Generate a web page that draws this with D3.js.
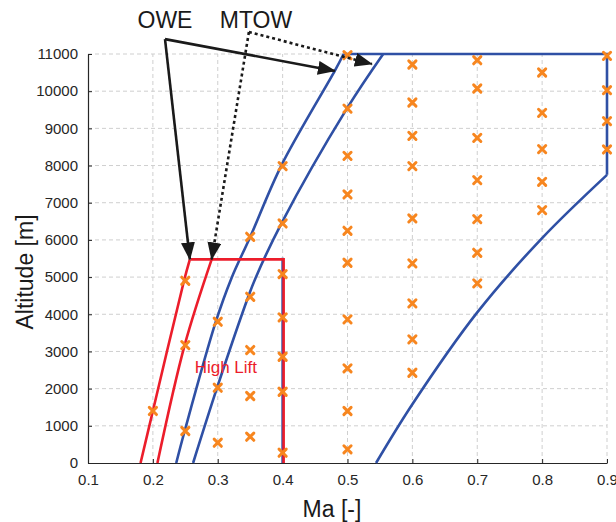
<!DOCTYPE html>
<html>
<head>
<meta charset="utf-8">
<script src="https://cdn.jsdelivr.net/npm/d3@7"></script>
<style>
  body { margin: 0; background: #fff; }
  text { font-family: "Liberation Sans", Arial, sans-serif; }
</style>
</head>
<body>
<div id="chart"></div>
<script>
// Flight envelope: Mach vs altitude
const machTicks = [0.1, 0.2, 0.3, 0.4, 0.5, 0.6, 0.7, 0.8, 0.9];
const altTicks = [0, 1000, 2000, 3000, 4000, 5000, 6000, 7000, 8000, 9000, 10000, 11000];

// [Ma, altitude m]
const oweClean = [[0.236, 0], [0.249, 860], [0.297, 3800], [0.321, 4965], [0.35, 6080], [0.398, 8000], [0.481, 10565], [0.494, 11000]];
const mtowClean = [[0.262, 0], [0.299, 2025], [0.347, 4470], [0.358, 4965], [0.398, 6440], [0.499, 9530], [0.555, 11000]];
const ceiling = [[0.494, 11000], [0.9, 11000], [0.9, 7750]];
const highSpeed = [[0.9, 7750], [0.8, 6050], [0.7, 4050], [0.6, 1580], [0.544, 0]];
const cleanLowLimit = [[0.4, 0], [0.4, 5520]];
const oweHighLift = [[0.181, 0], [0.2, 1400], [0.248, 4900], [0.257, 5476]];
const mtowHighLift = [[0.207, 0], [0.249, 3170], [0.2906, 5476]];
const highLiftTop = [[0.257, 5476], [0.4, 5476], [0.4, 0]];

// test points per Mach column
const pointMach = [0.2, 0.25, 0.3, 0.35, 0.4, 0.5, 0.6, 0.7, 0.8, 0.9];
const pointAlts = [
  [1400],
  [860, 3170, 4900],
  [546, 2025, 3800],
  [707, 1801, 3038, 4470, 6084],
  [277, 1917, 2858, 3916, 5081, 6443, 7984],
  [368, 1398, 2546, 3863, 5385, 6245, 7223, 8261, 9530, 10968],
  [2427, 3325, 4293, 5368, 6578, 7984, 8798, 9696, 10717],
  [4830, 5653, 6559, 7608, 8745, 10073, 10833],
  [6801, 7562, 8441, 9417, 10503],
  [8433, 9194, 10027, 10949]
];

// annotation arrows [from, to] in data coords
const oweArrows = [[[0.2187, 11400], [0.4806, 10545]], [[0.2187, 11400], [0.257, 5476]]];
const mtowArrows = [[[0.348, 11590], [0.5376, 10730]], [[0.348, 11590], [0.2906, 5476]]];

const blue = "#2f50a5";
const red = "#ec1d2b";
const orange = "#f7861f";

const W = 616, H = 522;
const x = d3.scaleLinear().domain([0.1, 0.9]).range([88, 607]);
const y = d3.scaleLinear().domain([0, 11000]).range([463, 54]);

const svg = d3.select("#chart").append("svg")
  .attr("width", W)
  .attr("height", H);

// arrowhead
svg.append("defs").append("marker")
  .attr("id", "head")
  .attr("markerUnits", "userSpaceOnUse")
  .attr("viewBox", "0 0 18 14")
  .attr("refX", 17)
  .attr("refY", 7)
  .attr("markerWidth", 18)
  .attr("markerHeight", 14)
  .attr("orient", "auto")
  .append("path")
  .attr("d", "M0,0 L18,7 L0,14 Z")
  .attr("fill", "#1a1a1a");

// grid
svg.append("g")
  .selectAll("line")
  .data(machTicks.slice(1))
  .join("line")
  .attr("x1", (d) => x(d)).attr("x2", (d) => x(d))
  .attr("y1", y(0)).attr("y2", y(11000))
  .attr("stroke", "#cfcfcf")
  .attr("stroke-dasharray", "4,3");

svg.append("g")
  .selectAll("line")
  .data(altTicks.slice(1))
  .join("line")
  .attr("x1", x(0.1)).attr("x2", x(0.9))
  .attr("y1", (d) => y(d)).attr("y2", (d) => y(d))
  .attr("stroke", "#cfcfcf")
  .attr("stroke-dasharray", "4,3");

// axes
const xAxis = svg.append("g")
  .attr("transform", `translate(0,${y(0)})`)
  .call(d3.axisBottom(x).tickValues(machTicks).tickFormat(d3.format(".1f")).tickSizeInner(-4).tickSizeOuter(0).tickPadding(11));
const yAxis = svg.append("g")
  .attr("transform", `translate(${x(0.1)},0)`)
  .call(d3.axisLeft(y).tickValues(altTicks).tickFormat(d3.format("d")).tickSizeInner(-4).tickSizeOuter(0).tickPadding(10));

[xAxis, yAxis].forEach((a) => {
  a.select(".domain").attr("stroke", "#262626").attr("stroke-width", 1.2);
  a.selectAll(".tick line").attr("stroke", "#262626");
  a.selectAll(".tick text")
    .attr("fill", "#262626")
    .style("font-size", "15px")
    .style("font-family", "'Liberation Sans', Arial, sans-serif");
});

// axis labels
svg.append("text")
  .attr("x", 332)
  .attr("y", 517)
  .attr("text-anchor", "middle")
  .attr("fill", "#1a1a1a")
  .style("font-size", "23px")
  .text("Ma [-]");

svg.append("text")
  .attr("transform", "translate(33,272) rotate(-90)")
  .attr("text-anchor", "middle")
  .attr("fill", "#1a1a1a")
  .style("font-size", "23px")
  .text("Altitude [m]");

// envelope lines
const smooth = d3.line().x((d) => x(d[0])).y((d) => y(d[1])).curve(d3.curveCatmullRom.alpha(0.5));
const straight = d3.line().x((d) => x(d[0])).y((d) => y(d[1]));

const g = svg.append("g").attr("fill", "none").attr("stroke-width", 2.6);

g.append("path").attr("d", straight(cleanLowLimit)).attr("stroke", blue);
g.append("path").attr("d", smooth(oweClean)).attr("stroke", blue);
g.append("path").attr("d", smooth(mtowClean)).attr("stroke", blue);
g.append("path").attr("d", straight(ceiling)).attr("stroke", blue).attr("stroke-linejoin", "miter");
g.append("path").attr("d", smooth(highSpeed)).attr("stroke", blue);

g.append("path").attr("d", smooth(oweHighLift)).attr("stroke", red);
g.append("path").attr("d", smooth(mtowHighLift)).attr("stroke", red);
g.append("path").attr("d", straight(highLiftTop)).attr("stroke", red)
  .attr("transform", "translate(1,0)");

// test points
const points = pointMach.flatMap((m, i) => pointAlts[i].map((a) => [m, a]));
const s = 3.6;
svg.append("g")
  .selectAll("path")
  .data(points)
  .join("path")
  .attr("transform", (d) => `translate(${x(d[0])},${y(d[1])})`)
  .attr("d", `M${-s},${-s}L${s},${s}M${-s},${s}L${s},${-s}`)
  .attr("stroke", orange)
  .attr("stroke-width", 3)
  .attr("stroke-linecap", "round");

// High Lift label
svg.append("text")
  .attr("x", x(0.3125))
  .attr("y", y(2420))
  .attr("text-anchor", "middle")
  .attr("fill", red)
  .style("font-size", "17px")
  .text("High Lift");

// annotations
const ann = svg.append("g").attr("fill", "none").attr("stroke", "#1a1a1a").attr("stroke-width", 2.6);
ann.selectAll(".owe")
  .data(oweArrows)
  .join("path")
  .attr("d", (d) => straight(d))
  .attr("marker-end", "url(#head)");
ann.selectAll(".mtow")
  .data(mtowArrows)
  .join("path")
  .attr("d", (d) => straight(d))
  .attr("stroke-dasharray", "3,3")
  .attr("marker-end", "url(#head)");

svg.append("text")
  .attr("x", x(0.2187))
  .attr("y", 28)
  .attr("text-anchor", "middle")
  .attr("fill", "#1a1a1a")
  .style("font-size", "23px")
  .text("OWE");

svg.append("text")
  .attr("x", 256)
  .attr("y", 28)
  .attr("text-anchor", "middle")
  .attr("fill", "#1a1a1a")
  .style("font-size", "23px")
  .text("MTOW");
</script>
</body>
</html>
